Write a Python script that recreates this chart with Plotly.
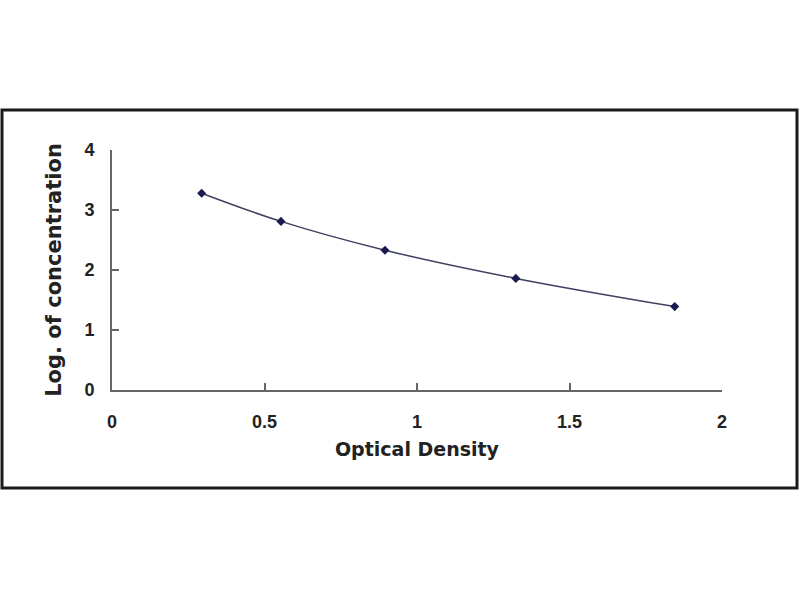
import plotly.graph_objects as go

# standard curve points
optical_density = [0.294, 0.554, 0.895, 1.324, 1.845]
log_concentration = [3.28, 2.81, 2.33, 1.86, 1.39]

x_ticks = [0, 0.5, 1, 1.5, 2]
x_tick_text = ['0', '0.5', '1', '1.5', '2']
y_ticks = [0, 1, 2, 3, 4]

tick_font = dict(family='Liberation Sans, Arial', size=18, color='#222222')

fig = go.Figure()
fig.add_trace(go.Scatter(x=optical_density,
                         y=log_concentration,
                         mode='lines+markers',
                         line=dict(color='#404060', width=1.5, shape='spline'),
                         marker=dict(symbol='diamond', size=7, color='#1a1a50'),
                         showlegend=False))

fig.update_layout(width=800, height=600,
                  paper_bgcolor='white', plot_bgcolor='white',
                  margin=dict(l=112, r=78, t=150, b=210))

fig.update_xaxes(range=[0, 2], tickvals=x_ticks,
                 ticktext=['<b>%s</b>' % t for t in x_tick_text],
                 showgrid=False, zeroline=False,
                 showline=True, linecolor='#666666', linewidth=2,
                 ticks='inside', ticklen=7, tickcolor='#666666', tickwidth=2,
                 ticklabelstandoff=14, tickfont=tick_font,
                 title=dict(text='<b>Optical Density</b>', standoff=12,
                            font=dict(family='DejaVu Sans', size=19, color='#222222')))

fig.update_yaxes(range=[0, 4], tickvals=y_ticks,
                 ticktext=['<b>%d</b>' % t for t in y_ticks],
                 showgrid=False, zeroline=False,
                 showline=True, linecolor='#666666', linewidth=2,
                 ticks='inside', ticklen=7, tickcolor='#666666', tickwidth=2,
                 ticklabelstandoff=12, tickfont=tick_font,
                 title=dict(text='<b>Log. of concentration</b>', standoff=17,
                            font=dict(family='DejaVu Sans', size=21, color='#222222')))

# outer frame around the whole chart
fig.add_shape(type='rect', xref='paper', yref='paper',
              x0=(2 - 112) / 610, x1=(797 - 112) / 610,
              y0=(390 - 488) / 240, y1=(390 - 110) / 240,
              line=dict(color='#1a1a1a', width=3))

# drop the default 8px body margin so the figure sits at the window corner
fig.write_html("out.html", config={'displayModeBar': False},
               post_script="document.body.style.margin='0';")
